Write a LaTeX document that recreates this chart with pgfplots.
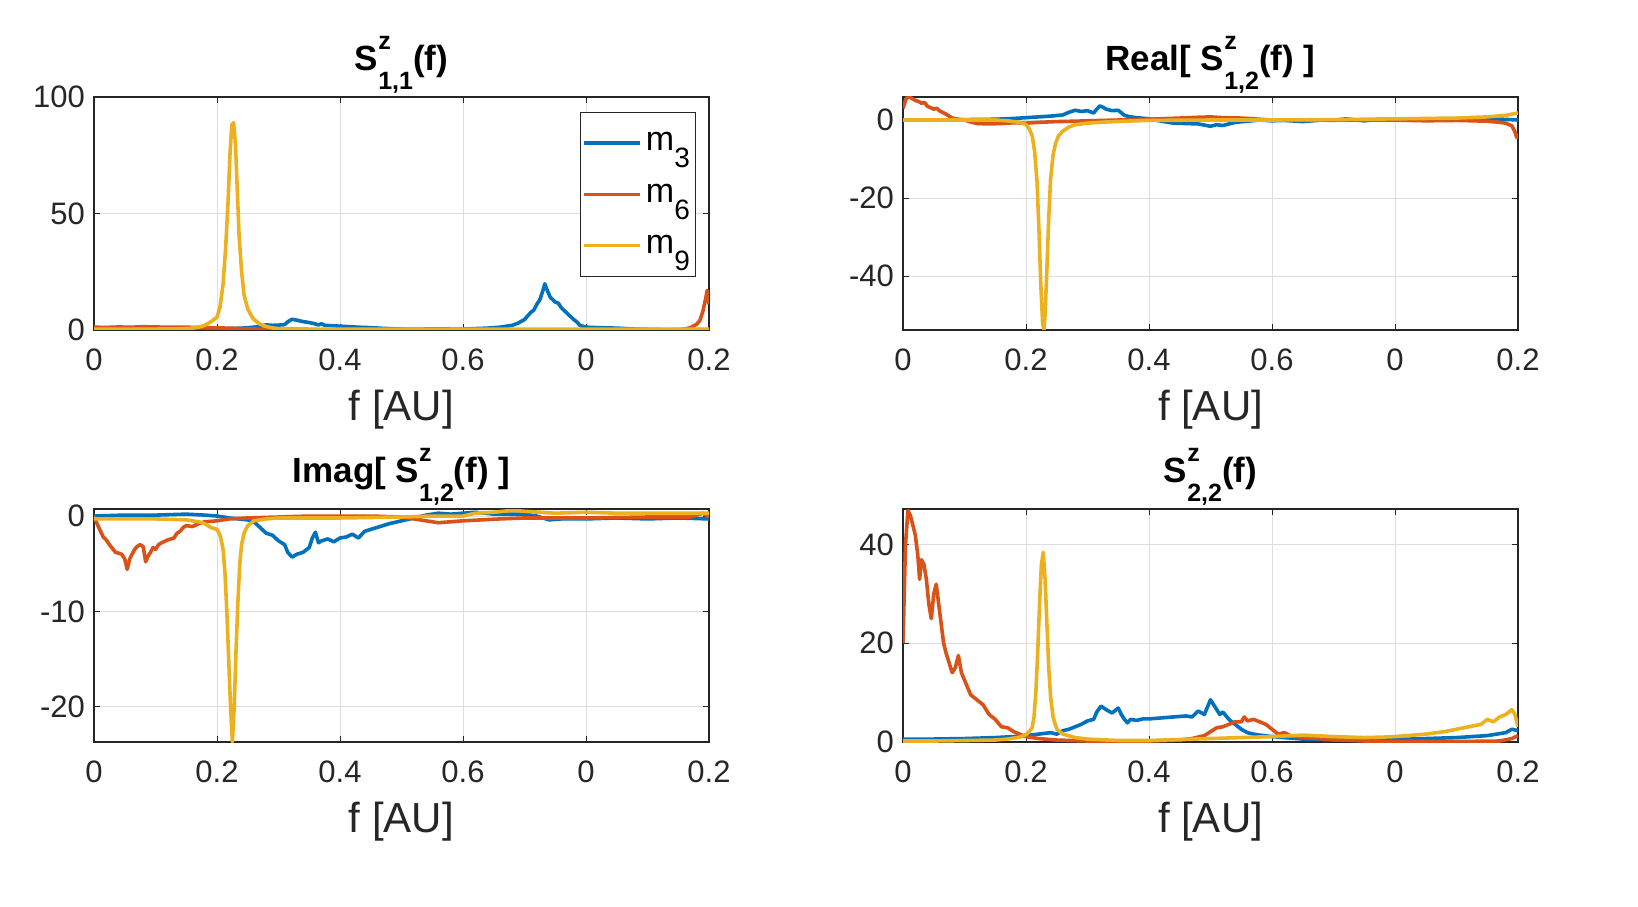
\documentclass[border=0pt]{standalone}
\usepackage{pgfplots}
\pgfplotsset{compat=1.18}
\usepackage{fontspec}
\setmainfont{Liberation Sans}
\definecolor{mblue}{rgb}{0,0.447,0.741}
\definecolor{mred}{rgb}{0.85,0.325,0.098}
\definecolor{myel}{rgb}{0.929,0.694,0.125}
\definecolor{axgray}{rgb}{0.15,0.15,0.15}
\newcommand{\Sz}[1]{S\rlap{\raisebox{0.6em}{\fontsize{12.5}{13}\selectfont z}}\raisebox{-0.55em}{\fontsize{12.5}{13}\selectfont #1}}
\newcommand{\lsub}[1]{m\raisebox{-0.5em}{\fontsize{14}{15}\selectfont #1}}
\pgfplotsset{
  mystyle/.style={
    width=307.5pt, height=116.5pt, scale only axis,
    xmin=0, xmax=1,
    xtick={0,0.2,0.4,0.6,0.8,1},
    xticklabels={0,0.2,0.4,0.6,0,0.2},
    grid=major,
    grid style={draw=black!13, line width=0.5pt},
    axis line style={draw=axgray, line width=0.6pt},
    major tick length=3pt,
    tick style={draw=axgray, line width=0.5pt},
    tick label style={font=\fontsize{15.5}{17}\selectfont, text=axgray},
    xticklabel style={yshift=-6pt},
    yticklabel style={xshift=-1pt},
    xlabel={f [AU]},
    xlabel style={font=\fontsize{21}{25}\selectfont, text=axgray, at={(axis description cs:0.5,0)}, anchor=center, yshift=-40pt},
    title style={font=\bfseries\fontsize{17.5}{20}\selectfont, at={(axis description cs:0.5,1)}, anchor=center, yshift=10pt},
    every axis plot/.append style={line width=1.8pt, line join=round},
    clip=true,
  }
}
\begin{document}
\begin{tikzpicture}
\useasboundingbox (0,0) rectangle (819pt,453pt);
% ---------------- top-left
\begin{axis}[mystyle, at={(47pt,288pt)}, anchor=south west,
  ymin=0, ymax=100, ytick={0,50,100}, yticklabels={0,50,100},
  title={\Sz{1,1}(f)},
  legend style={at={(0.79,0.936)}, anchor=north west, draw=axgray, line width=0.5pt,
    font=\fontsize{17}{20}\selectfont, legend cell align=left, row sep=11pt, inner xsep=1pt, inner ysep=8pt},
  legend image code/.code={\draw[#1] (0pt,0pt) -- (28pt,0pt);}]
\addplot[mblue] coordinates {(0,0.1)(0.05,0.1)(0.1,0.05)(0.15,0.1)(0.18,0.2)(0.2,0.4)(0.22,0.6)(0.24,0.8)(0.26,1.2)(0.27,1.6)(0.28,2.2)(0.29,2.0)(0.30,2.1)(0.31,2.3)(0.315,3.5)(0.322,4.6)(0.33,4.2)(0.34,3.6)(0.35,3.2)(0.36,2.6)(0.365,2.2)(0.37,2.7)(0.375,2.0)(0.39,1.8)(0.41,1.5)(0.43,1.2)(0.45,1.0)(0.47,0.7)(0.5,0.4)(0.52,0.3)(0.55,0.5)(0.58,0.4)(0.6,0.4)(0.62,0.6)(0.64,0.8)(0.66,1.2)(0.68,2.0)(0.69,3.0)(0.70,4.5)(0.71,7.5)(0.715,8.5)(0.72,11)(0.725,13)(0.73,17)(0.733,19.8)(0.737,17)(0.742,14)(0.75,12)(0.755,11.5)(0.76,9.5)(0.77,7)(0.78,4.5)(0.785,3.5)(0.79,2.0)(0.80,1.2)(0.82,1.0)(0.85,0.8)(0.88,0.4)(0.92,0.2)(0.96,0.1)(1.0,0.1)};
\addlegendentry{\lsub{3}}
\addplot[mred] coordinates {(0,1.2)(0.02,1.1)(0.04,1.3)(0.06,1.2)(0.08,1.4)(0.1,1.3)(0.12,1.2)(0.15,1.2)(0.18,1.0)(0.2,0.9)(0.22,0.8)(0.25,0.5)(0.28,0.3)(0.3,0.2)(0.35,0.1)(0.4,0.05)(0.5,0.0)(0.6,0.0)(0.7,0.0)(0.8,0.0)(0.9,0.0)(0.95,0.1)(0.96,0.4)(0.97,1.0)(0.98,2.5)(0.985,4)(0.99,8)(0.995,14)(0.997,17)(1.0,11)};
\addlegendentry{\lsub{6}}
\addplot[myel] coordinates {(0,0.3)(0.05,0.3)(0.1,0.4)(0.14,0.5)(0.16,0.8)(0.17,1.2)(0.18,2)(0.19,3.5)(0.2,5.5)(0.205,10)(0.21,20)(0.214,35)(0.218,55)(0.221,75)(0.224,88)(0.227,89)(0.23,80)(0.233,60)(0.236,40)(0.24,25)(0.244,15)(0.25,9)(0.255,6.5)(0.26,4.5)(0.27,2.5)(0.28,1.5)(0.29,0.9)(0.3,0.6)(0.35,0.4)(0.4,0.3)(0.5,0.3)(0.6,0.3)(0.7,0.3)(0.8,0.3)(0.9,0.3)(1.0,0.4)};
\addlegendentry{\lsub{9}}
\end{axis}
% ---------------- top-right
\begin{axis}[mystyle, at={(451.5pt,288pt)}, anchor=south west,
  ymin=-53.8, ymax=5.9, ytick={-40,-20,0}, yticklabels={-40,-20,0},
  title={Real[ \Sz{1,2}(f) ]}]
\addplot[mblue] coordinates {(0,0)(0.05,0)(0.1,0.1)(0.15,0.2)(0.18,0.4)(0.2,0.6)(0.22,0.8)(0.24,1.0)(0.26,1.3)(0.27,2.0)(0.28,2.5)(0.29,2.2)(0.3,2.4)(0.31,1.8)(0.315,2.8)(0.32,3.6)(0.325,3.3)(0.33,2.8)(0.34,2.4)(0.35,2.5)(0.36,1.2)(0.37,0.8)(0.38,0.6)(0.4,0.3)(0.42,-0.3)(0.44,-0.8)(0.46,-0.9)(0.48,-1.0)(0.5,-1.6)(0.51,-1.2)(0.52,-1.4)(0.54,-0.6)(0.56,-0.3)(0.58,0)(0.6,-0.2)(0.62,-0.1)(0.65,-0.4)(0.68,0)(0.7,-0.1)(0.72,0.3)(0.75,-0.2)(0.78,0.3)(0.8,0.2)(0.85,0.3)(0.9,0.3)(0.95,0.4)(1.0,0)};
\addplot[mred] coordinates {(0,3)(0.005,5.5)(0.01,5.9)(0.015,5.5)(0.02,5)(0.025,4.8)(0.03,4.3)(0.035,4.5)(0.04,3.5)(0.05,2.8)(0.055,3)(0.06,2.3)(0.07,1.5)(0.08,0.5)(0.09,0.2)(0.1,0)(0.11,-0.5)(0.12,-0.9)(0.14,-1.0)(0.16,-0.9)(0.18,-0.7)(0.2,-0.8)(0.22,-0.6)(0.25,-0.4)(0.28,-0.3)(0.3,-0.2)(0.35,0)(0.4,0.2)(0.45,0.5)(0.48,0.7)(0.5,0.8)(0.52,0.6)(0.55,0.5)(0.58,0.2)(0.6,0)(0.65,-0.1)(0.7,0)(0.8,0)(0.85,-0.2)(0.9,-0.1)(0.95,-0.3)(0.97,-0.6)(0.98,-0.8)(0.99,-1.5)(0.995,-3)(0.998,-4.5)(1.0,-3.5)};
\addplot[myel] coordinates {(0,0)(0.05,0)(0.1,0)(0.15,0)(0.17,-0.2)(0.19,-0.6)(0.2,-1.2)(0.205,-2.2)(0.21,-4)(0.214,-8)(0.218,-16)(0.221,-28)(0.224,-42)(0.227,-52)(0.229,-54)(0.231,-50)(0.234,-38)(0.237,-25)(0.24,-15)(0.244,-9)(0.248,-6)(0.253,-4)(0.26,-2.8)(0.27,-1.8)(0.28,-1.2)(0.3,-0.8)(0.33,-0.5)(0.36,-0.3)(0.4,-0.1)(0.5,0)(0.6,0)(0.7,0.1)(0.8,0.3)(0.85,0.4)(0.9,0.5)(0.95,0.8)(0.98,1.2)(1.0,1.8)};
\end{axis}
% ---------------- bottom-left
\begin{axis}[mystyle, at={(47pt,82pt)}, anchor=south west,
  ymin=-23.7, ymax=0.74, ytick={-20,-10,0}, yticklabels={-20,-10,0},
  title={Imag[ \Sz{1,2}(f) ]}]
\addplot[mblue] coordinates {(0,0)(0.05,0.1)(0.1,0.1)(0.15,0.2)(0.18,0.1)(0.2,0)(0.22,-0.2)(0.25,-0.4)(0.26,-0.6)(0.27,-1.2)(0.28,-1.8)(0.29,-2.0)(0.3,-2.6)(0.31,-3.0)(0.315,-3.8)(0.322,-4.3)(0.33,-4.0)(0.34,-3.8)(0.35,-3.3)(0.355,-2.3)(0.36,-1.7)(0.365,-2.8)(0.37,-2.6)(0.38,-2.4)(0.39,-2.7)(0.4,-2.3)(0.41,-2.2)(0.42,-1.9)(0.43,-2.3)(0.44,-1.6)(0.46,-1.2)(0.48,-0.8)(0.5,-0.5)(0.52,-0.2)(0.54,0.1)(0.56,0.3)(0.58,0.2)(0.6,0.3)(0.62,0.4)(0.65,0.2)(0.7,0.2)(0.72,0)(0.74,-0.4)(0.76,-0.3)(0.8,-0.3)(0.85,-0.2)(0.9,-0.3)(0.95,-0.2)(1.0,-0.3)};
\addplot[mred] coordinates {(0,0)(0.005,-0.8)(0.01,-1.5)(0.015,-2.2)(0.02,-2.5)(0.025,-3.0)(0.03,-3.4)(0.035,-3.8)(0.04,-3.9)(0.045,-4.0)(0.05,-4.5)(0.054,-5.6)(0.058,-4.5)(0.062,-4.0)(0.066,-3.5)(0.07,-3.2)(0.075,-3.0)(0.08,-3.2)(0.084,-4.8)(0.088,-4.2)(0.092,-3.8)(0.096,-3.3)(0.1,-3.5)(0.105,-3.0)(0.11,-2.8)(0.12,-2.5)(0.13,-2.3)(0.135,-1.8)(0.14,-1.6)(0.145,-1.2)(0.15,-1.0)(0.16,-1.1)(0.17,-0.8)(0.18,-0.6)(0.2,-0.5)(0.22,-0.3)(0.25,-0.2)(0.3,-0.1)(0.35,0)(0.4,0)(0.45,0)(0.5,-0.1)(0.53,-0.4)(0.56,-0.7)(0.58,-0.6)(0.6,-0.5)(0.63,-0.4)(0.66,-0.3)(0.7,-0.2)(0.8,-0.2)(0.9,-0.1)(0.97,-0.1)(0.99,0.3)(1.0,-0.1)};
\addplot[myel] coordinates {(0,-0.3)(0.05,-0.3)(0.1,-0.3)(0.15,-0.4)(0.17,-0.6)(0.18,-0.8)(0.19,-1.2)(0.2,-1.4)(0.205,-2)(0.21,-3.5)(0.213,-6)(0.216,-10)(0.219,-15)(0.222,-20)(0.225,-23.7)(0.228,-20)(0.231,-14)(0.234,-9)(0.237,-5)(0.24,-3)(0.244,-1.8)(0.25,-1.0)(0.26,-0.5)(0.28,-0.3)(0.3,-0.2)(0.4,-0.2)(0.5,-0.1)(0.55,0)(0.6,0)(0.62,0.3)(0.65,0.4)(0.68,0.6)(0.7,0.5)(0.75,0.3)(0.8,0.4)(0.85,0.3)(0.9,0.3)(0.95,0.3)(1.0,0.3)};
\end{axis}
% ---------------- bottom-right
\begin{axis}[mystyle, at={(451.5pt,82pt)}, anchor=south west,
  ymin=-0.1, ymax=47.3, ytick={0,20,40}, yticklabels={0,20,40},
  title={\Sz{2,2}(f)}]
\addplot[mblue] coordinates {(0,0.5)(0.05,0.5)(0.1,0.6)(0.15,0.8)(0.18,1.0)(0.2,1.2)(0.22,1.5)(0.24,1.8)(0.25,1.5)(0.26,2.2)(0.27,2.5)(0.28,3.0)(0.29,3.5)(0.3,4.2)(0.31,4.5)(0.315,6)(0.322,7.2)(0.33,6.5)(0.34,5.8)(0.35,6.8)(0.355,5.5)(0.36,4.5)(0.365,3.8)(0.37,4.5)(0.38,4.3)(0.39,4.6)(0.4,4.6)(0.42,4.8)(0.44,5.0)(0.46,5.2)(0.47,5.0)(0.48,6.2)(0.49,5.5)(0.5,8.5)(0.505,7.5)(0.51,6.5)(0.515,5.5)(0.52,6.0)(0.53,4.5)(0.54,3.5)(0.55,2.5)(0.56,1.8)(0.57,1.5)(0.58,1.3)(0.6,1.0)(0.62,0.8)(0.65,0.5)(0.7,0.3)(0.75,0.3)(0.8,0.4)(0.85,0.6)(0.9,0.8)(0.95,1.2)(0.98,1.8)(0.99,2.5)(1.0,2.2)};
\addplot[mred] coordinates {(0,20)(0.002,30)(0.004,40)(0.008,47)(0.012,46)(0.016,44)(0.02,42)(0.024,38)(0.027,33)(0.03,37)(0.034,36)(0.038,33)(0.042,28)(0.046,25)(0.05,30)(0.054,32)(0.058,28)(0.062,24)(0.066,20)(0.07,18)(0.075,16)(0.08,14)(0.085,15)(0.09,17.5)(0.095,14)(0.1,12.5)(0.105,11)(0.11,9.5)(0.115,9)(0.12,8.5)(0.13,7.5)(0.14,5.5)(0.15,4.5)(0.16,3)(0.17,2.8)(0.18,2)(0.19,1.5)(0.2,1.0)(0.22,0.6)(0.25,0.3)(0.3,0.1)(0.35,0)(0.4,0.1)(0.45,0.3)(0.47,0.6)(0.49,1.2)(0.5,2)(0.51,2.8)(0.52,3)(0.53,3.5)(0.54,4)(0.55,4)(0.555,5)(0.56,4.2)(0.57,4.5)(0.58,4)(0.59,3.5)(0.6,2.5)(0.61,1.5)(0.62,1.8)(0.63,1.2)(0.65,0.8)(0.7,0.4)(0.75,0.1)(0.8,0)(0.9,0)(0.97,0.1)(0.99,0.6)(1.0,1.2)};
\addplot[myel] coordinates {(0,0.1)(0.05,0.1)(0.1,0.2)(0.15,0.3)(0.17,0.5)(0.19,0.9)(0.2,1.4)(0.205,2)(0.21,2.8)(0.213,5)(0.216,10)(0.219,18)(0.222,28)(0.225,36)(0.228,38.5)(0.231,33)(0.234,24)(0.237,15)(0.24,9)(0.244,5)(0.25,2.5)(0.26,1.5)(0.28,0.8)(0.3,0.5)(0.35,0.2)(0.4,0.2)(0.45,0.4)(0.5,0.6)(0.55,0.8)(0.6,1.0)(0.65,1.3)(0.7,1.0)(0.75,0.8)(0.78,0.9)(0.8,1.0)(0.85,1.5)(0.88,2)(0.9,2.5)(0.92,3)(0.94,3.5)(0.95,4.5)(0.96,4)(0.97,5)(0.98,5.5)(0.99,6.5)(0.995,5.5)(1.0,3)};
\end{axis}
\end{tikzpicture}
\end{document}
